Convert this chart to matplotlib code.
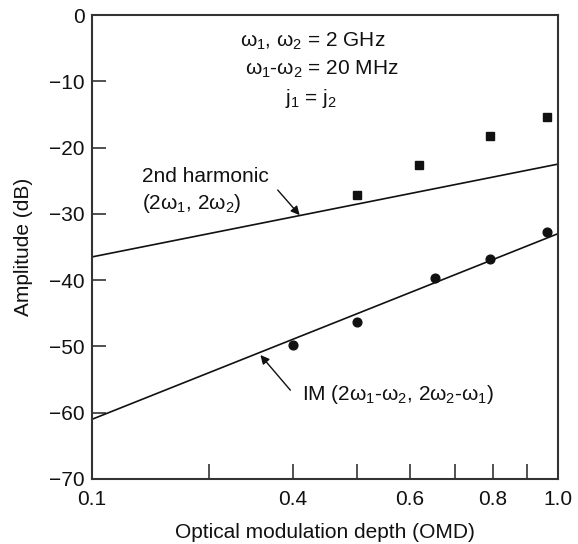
import matplotlib
matplotlib.use('Agg')
import matplotlib.pyplot as plt
import numpy as np

plt.rcParams['font.family'] = ['Liberation Sans', 'DejaVu Sans']
plt.rcParams['mathtext.fontset'] = 'custom'
plt.rcParams['mathtext.rm'] = 'Liberation Sans'
plt.rcParams['mathtext.it'] = 'Liberation Sans'
plt.rcParams['font.size'] = 15

# measured points
omd_harm = np.array([0.50, 0.62, 0.79, 0.965])
amp_harm = np.array([-27.2, -22.7, -18.3, -15.4])
omd_im = np.array([0.40, 0.50, 0.655, 0.79, 0.962])
amp_im = np.array([-49.8, -46.3, -39.7, -36.8, -32.7])

# fitted lines (20 dB/dec and 40 dB/dec)
omd_fit = np.array([0.2, 1.0])
harm_fit = np.array([-36.5, -22.5])
im_fit = np.array([-61.0, -33.0])

xticks = [0.2, 0.4, 0.6, 0.8, 1.0]
xticklabels = ['0.1', '0.4', '0.6', '0.8', '1.0']
minor = [0.3, 0.5, 0.7, 0.9]
yticks = [0, -10, -20, -30, -40, -50, -60, -70]

fig = plt.figure(figsize=(5.78, 5.44), dpi=100)
ax = fig.add_axes([0.159, 0.1195, 0.806, 0.8529])

ink = '#111111'
ax.plot(omd_fit, harm_fit, color=ink, lw=1.2)
ax.plot(omd_fit, im_fit, color=ink, lw=1.2)
ax.plot(omd_harm, amp_harm, 's', color=ink, ms=6, mec=ink)
ax.plot(omd_im, amp_im, 'o', color=ink, ms=6.3, mec=ink)

ax.set_xscale('log')
ax.set_xlim(0.2, 1.0)
ax.set_ylim(-70, 0)
ax.set_xticks(xticks)
ax.set_xticklabels(xticklabels)
ax.set_xticks(minor, minor=True)
ax.xaxis.set_minor_formatter(matplotlib.ticker.NullFormatter())
ax.set_yticks(yticks)

ax.tick_params(axis='both', which='both', direction='in', color='#333333',
               width=1.2, labelcolor=ink)
ax.tick_params(axis='x', which='both', length=11, pad=8)
ax.tick_params(axis='y', length=10, pad=5)
for s in ax.spines.values():
    s.set_color('#333333')
    s.set_linewidth(1.5)

ax.set_xlabel('Optical modulation depth (OMD)', color=ink, labelpad=10)
ax.set_ylabel('Amplitude (dB)', color=ink, labelpad=12)

ax.text(0.318, 0.931, r'$\omega_1$, $\omega_2$ = 2 GHz', transform=ax.transAxes, color=ink)
ax.text(0.328, 0.871, r'$\omega_1$-$\omega_2$ = 20 MHz', transform=ax.transAxes, color=ink)
ax.text(0.414, 0.808, r'j$_1$ = j$_2$', transform=ax.transAxes, color=ink)

ax.text(0.107, 0.641, '2nd harmonic', transform=ax.transAxes, color=ink)
ax.text(0.107, 0.582, r'(2$\omega_1$, 2$\omega_2$)', transform=ax.transAxes, color=ink)
ax.annotate('', xy=(0.41, -30.2), xytext=(0.38, -26.4),
            arrowprops=dict(arrowstyle='-|>', color=ink, lw=1, mutation_scale=13,
                            shrinkA=0, shrinkB=0))

ax.text(0.451, 0.170, r'IM (2$\omega_1$-$\omega_2$, 2$\omega_2$-$\omega_1$)',
        transform=ax.transAxes, color=ink)
ax.annotate('', xy=(0.358, -51.3), xytext=(0.397, -56.6),
            arrowprops=dict(arrowstyle='-|>', color=ink, lw=1, mutation_scale=13,
                            shrinkA=0, shrinkB=0))

fig.savefig('out.png', dpi=100)
